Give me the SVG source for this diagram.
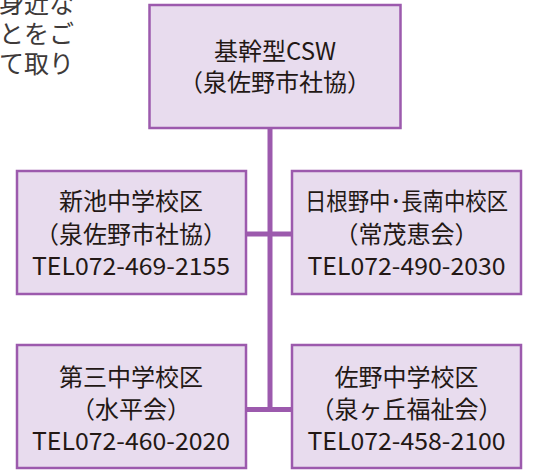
<svg xmlns="http://www.w3.org/2000/svg" width="540" height="473" viewBox="0 0 540 473">
<style>
.box{fill:#e8dcee;stroke:#9c5aad;stroke-width:2.5}
.t{font-family:"Noto Sans CJK JP","Noto Sans",sans-serif;font-size:24px;fill:#231815;text-anchor:middle}
.p{font-family:"Noto Sans CJK JP","Noto Sans",sans-serif;font-size:25px;fill:#3e3a39;text-anchor:end}
.c{stroke:#9c5aad;stroke-width:5;fill:none}
</style>
<rect width="540" height="473" fill="#fff"/>
<g id="para">
<text class="p" x="74" y="13">身近な</text>
<text class="p" x="74" y="43">とをご</text>
<text class="p" x="74" y="73">て取り</text>
</g>
<g id="connectors">
<line class="c" x1="270" y1="128" x2="270" y2="411.5"/>
<line class="c" x1="246" y1="234" x2="292" y2="234"/>
<line class="c" x1="246" y1="409.5" x2="292" y2="409.5"/>
</g>
<g id="top">
<rect class="box" x="149.5" y="5" width="251" height="123"/>
<text class="t" x="275" y="60">基幹型CSW</text>
<text class="t" x="275" y="91">（泉佐野市社協）</text>
</g>
<g id="shinike">
<rect class="box" x="17" y="171" width="229" height="123"/>
<text class="t" x="131" y="210">新池中学校区</text>
<text class="t" x="131" y="243">（泉佐野市社協）</text>
<text class="t" x="131" y="275" textLength="198" lengthAdjust="spacingAndGlyphs">TEL072-469-2155</text>
</g>
<g id="hinenono">
<rect class="box" x="292" y="171" width="229" height="123"/>
<text class="t" x="406.5" y="210" font-size="23" textLength="203" lengthAdjust="spacingAndGlyphs">日根野中･長南中校区</text>
<text class="t" x="406.5" y="243">（常茂恵会）</text>
<text class="t" x="406.5" y="275" textLength="198" lengthAdjust="spacingAndGlyphs">TEL072-490-2030</text>
</g>
<g id="daisan">
<rect class="box" x="17" y="345" width="229" height="123"/>
<text class="t" x="131" y="386">第三中学校区</text>
<text class="t" x="131" y="418">（水平会）</text>
<text class="t" x="131" y="450" textLength="198" lengthAdjust="spacingAndGlyphs">TEL072-460-2020</text>
</g>
<g id="sano">
<rect class="box" x="292" y="345" width="229" height="123"/>
<text class="t" x="406.5" y="386">佐野中学校区</text>
<text class="t" x="406.5" y="418">（泉ヶ丘福祉会）</text>
<text class="t" x="406.5" y="450" textLength="198" lengthAdjust="spacingAndGlyphs">TEL072-458-2100</text>
</g>
</svg>
